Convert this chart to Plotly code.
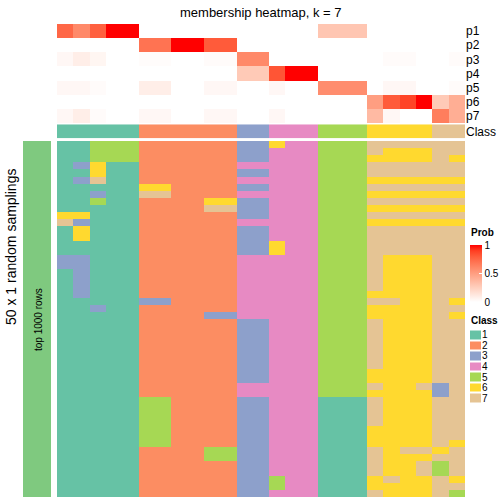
import plotly.graph_objects as go

# ---------------- data ----------------
class_labels = ["1", "2", "3", "4", "5", "6", "7"]
class_colors = ["#66C2A5", "#FC8D62", "#8DA0CB", "#E78AC3", "#A6D854", "#FFD92F", "#E5C494"]

col_class = [1, 1, 1, 1, 1, 2, 2, 2, 2, 2, 2, 3, 3, 4, 4, 4, 5, 5, 5, 6, 6, 6, 6, 7, 7]

prob_rows = ["p1", "p2", "p3", "p4", "p5", "p6", "p7"]
p1 = [0.75, 0.6, 0.78, 1, 1, 0, 0, 0, 0, 0, 0, 0, 0, 0, 0, 0, 0.3, 0.3, 0.3, 0, 0, 0, 0, 0, 0]
p2 = [0, 0, 0, 0, 0, 0.7, 0.7, 1, 1, 0.8, 0.8, 0, 0, 0, 0, 0, 0, 0, 0, 0, 0, 0, 0, 0, 0]
p3 = [0.04, 0.09, 0.05, 0, 0, 0.015, 0.015, 0, 0, 0.02, 0.02, 0.6, 0.6, 0, 0, 0, 0, 0, 0, 0, 0.02, 0.02, 0, 0, 0.02]
p4 = [0, 0, 0, 0, 0, 0, 0, 0, 0, 0, 0, 0.28, 0.28, 0.82, 1, 1, 0, 0, 0, 0, 0, 0, 0, 0, 0]
p5 = [0.04, 0.04, 0.02, 0, 0, 0.09, 0.09, 0, 0, 0.04, 0.04, 0, 0, 0.04, 0, 0, 0.58, 0.58, 0.58, 0, 0.04, 0.04, 0, 0, 0.02]
p6 = [0, 0, 0, 0, 0, 0, 0, 0, 0, 0, 0, 0, 0, 0, 0, 0, 0, 0, 0, 0.5, 0.8, 0.88, 1, 0.28, 0.42]
p7 = [0.04, 0.09, 0.02, 0, 0, 0.04, 0.04, 0, 0, 0.04, 0.04, 0, 0, 0.04, 0, 0, 0, 0, 0, 0.36, 0.04, 0, 0, 0.65, 0.42]

membership = [
    "11555 222222 33 644 555 777777",
    "11555 222222 33 444 555 766677",
    "11555 222222 33 444 555 666676",
    "13611 222222 44 444 555 777777",
    "11611 222222 33 444 555 777777",
    "13711 222222 44 444 555 666666",
    "11111 662222 33 444 555 777777",
    "11311 772222 44 444 555 666666",
    "11511 222266 33 444 555 777777",
    "11111 222277 33 444 555 666666",
    "66111 222222 33 444 555 777777",
    "73111 222222 44 444 555 666666",
    "16111 222222 33 444 555 777777",
    "16111 222222 33 444 555 777777",
    "11111 222222 33 644 555 777777",
    "11111 222222 33 644 555 777777",
    "33111 222222 44 444 555 766677",
    "33111 222222 44 444 555 766677",
    "13111 222222 44 444 555 766677",
    "13111 222222 44 444 555 766677",
    "13111 222222 44 444 555 766677",
    "13111 222222 44 444 555 666677",
    "11111 332222 44 444 555 776676",
    "11311 222222 44 444 555 666677",
    "11111 222233 44 444 555 666676",
    "11111 222222 33 444 555 766677",
    "11111 222222 33 444 555 766677",
    "11111 222222 33 444 555 766677",
    "11111 222222 33 444 555 766677",
    "11111 222222 33 444 555 766677",
    "11111 222222 33 444 555 766677",
    "11111 222222 33 444 555 766677",
    "11111 222222 33 444 555 666677",
    "11111 222222 33 444 555 666677",
    "11111 222222 44 444 555 766737",
    "11111 222222 44 444 555 666637",
    "11111 552222 33 444 111 766677",
    "11111 552222 33 444 111 766677",
    "11111 552222 33 444 111 766677",
    "11111 552222 33 444 111 766677",
    "11111 552222 33 444 111 666677",
    "11111 552222 33 444 111 666677",
    "11111 552222 33 444 111 666676",
    "11111 222255 33 444 111 767767",
    "11111 222255 33 444 111 766677",
    "11111 222222 33 444 111 766757",
    "11111 222222 33 444 111 766757",
    "11111 222222 33 544 111 676676",
    "11111 222222 33 544 111 666677",
    "11111 222222 33 444 111 766675",
]

# ---------------- helpers ----------------
M = [[int(ch) for ch in r.replace(" ", "")] for r in membership]
P = [p1, p2, p3, p4, p5, p6, p7]
ncol = len(col_class)
nrow = len(M)


def lab_to_hex(L, a, b):
    fy = (L + 16) / 116
    fx = fy + a / 500
    fz = fy - b / 200

    def finv(t):
        return t ** 3 if t ** 3 > 0.008856 else (t - 16 / 116) / 7.787

    X_, Y_, Z_ = 0.95047 * finv(fx), 1.0 * finv(fy), 1.08883 * finv(fz)
    r = 3.2406 * X_ - 1.5372 * Y_ - 0.4986 * Z_
    g = -0.9689 * X_ + 1.8758 * Y_ + 0.0415 * Z_
    bb = 0.0557 * X_ - 0.2040 * Y_ + 1.0570 * Z_

    def gam(c):
        c = max(0.0, min(1.0, c))
        return 12.92 * c if c <= 0.0031308 else 1.055 * c ** (1 / 2.4) - 0.055

    return "#%02x%02x%02x" % tuple(int(round(gam(c) * 255)) for c in (r, g, bb))


prob_scale = []
for i in range(11):
    t = i / 10
    prob_scale.append([t, lab_to_hex(100 - 46.76 * t, 80.09 * t, 67.20 * t)])

disc = []
for k, c in enumerate(class_colors):
    disc.append([k / 7, c])
    disc.append([(k + 1) / 7, c])


def X(p):
    return p / 504


def Y(p):
    return 1 - p / 504


FONT = "Liberation Sans, Arial, sans-serif"
cols = list(range(ncol))

fig = go.Figure()

# main membership heatmap
fig.add_trace(go.Heatmap(z=M, x=cols, y=list(range(nrow)), colorscale=disc, zmin=0.5, zmax=7.5,
                         showscale=False, xaxis="x", yaxis="y", hoverinfo="skip"))
# probability annotation
fig.add_trace(go.Heatmap(z=P, x=cols, y=list(range(7)), colorscale=prob_scale, zmin=0, zmax=1,
                         xaxis="x2", yaxis="y2", hoverinfo="skip",
                         colorbar=dict(
                             x=X(470), xanchor="left", y=Y(245), yanchor="top",
                             len=57, lenmode="pixels", thickness=12, thicknessmode="pixels",
                             xpad=0, ypad=0, outlinewidth=0,
                             tickvals=[0, 0.5, 1], ticktext=["0", "0.5", "1"],
                             ticks="inside", ticklen=3, tickcolor="white",
                             tickfont=dict(size=10, family=FONT, color="black"))))
# class annotation row
fig.add_trace(go.Heatmap(z=[col_class], x=cols, y=[0], colorscale=disc, zmin=0.5, zmax=7.5,
                         showscale=False, xaxis="x3", yaxis="y3", hoverinfo="skip"))
# left block bar
fig.add_trace(go.Heatmap(z=[[1]], x=[0], y=[0], colorscale=[[0, "#7FC97F"], [1, "#7FC97F"]],
                         showscale=False, xaxis="x4", yaxis="y4", hoverinfo="skip"))
# class legend
fig.add_trace(go.Heatmap(z=[[k + 1] for k in range(7)], x=[0], y=list(range(7)), colorscale=disc,
                         zmin=0.5, zmax=7.5, ygap=2, showscale=False, xaxis="x5", yaxis="y5", hoverinfo="skip"))

hide = dict(visible=False, showgrid=False, zeroline=False)
main_xd = [X(57), X(465)]
main_yd = [Y(497), Y(141)]
lab_font = dict(size=12, family=FONT, color="black")

fig.update_layout(
    width=504, height=504, margin=dict(l=0, r=0, t=0, b=0, autoexpand=False),
    paper_bgcolor="white", plot_bgcolor="white", showlegend=False,
    font=dict(family=FONT, color="black"),
    xaxis=dict(domain=main_xd, range=[-0.5, ncol - 0.5], **hide),
    yaxis=dict(domain=main_yd, range=[nrow - 0.5, -0.5], **hide),
    xaxis2=dict(domain=main_xd, range=[-0.5, ncol - 0.5], anchor="y2", **hide),
    yaxis2=dict(domain=[Y(123.3), Y(24)], range=[6.5, -0.5], anchor="x2", side="right",
                tickvals=list(range(7)), ticktext=prob_rows, ticks="", showgrid=False,
                zeroline=False, showline=False, tickfont=lab_font, automargin=False),
    xaxis3=dict(domain=main_xd, range=[-0.5, ncol - 0.5], anchor="y3", **hide),
    yaxis3=dict(domain=[Y(138.3), Y(124.3)], range=[0.5, -0.5], anchor="x3", side="right",
                tickvals=[0], ticktext=["Class"], ticks="", showgrid=False,
                zeroline=False, showline=False, tickfont=lab_font, automargin=False),
    xaxis4=dict(domain=[X(23), X(51)], range=[-0.5, 0.5], anchor="y4", **hide),
    yaxis4=dict(domain=main_yd, range=[0.5, -0.5], anchor="x4", **hide),
    xaxis5=dict(domain=[X(470), X(481)], range=[-0.5, 0.5], anchor="y5", **hide),
    yaxis5=dict(domain=[Y(403.5), Y(329.5)], range=[6.5, -0.5], anchor="x5", side="right",
                tickvals=list(range(7)), ticktext=class_labels, ticks="", showgrid=False,
                zeroline=False, showline=False, automargin=False,
                tickfont=dict(size=10, family=FONT, color="black")),
    annotations=[
        dict(text="membership heatmap, k = 7", x=X(261), y=Y(12), xref="paper", yref="paper",
             xanchor="center", yanchor="middle",
             showarrow=False, font=dict(size=13, family=FONT, color="black")),
        dict(text="50 x 1 random samplings", x=X(11), y=Y(247), xref="paper", yref="paper",
             xanchor="center", yanchor="middle",
             showarrow=False, textangle=-90, font=dict(size=14, family=FONT, color="black")),
        dict(text="top 1000 rows", x=X(38), y=Y(320), xref="paper", yref="paper",
             xanchor="center", yanchor="middle",
             showarrow=False, textangle=-90, font=dict(size=10, family=FONT, color="black")),
        dict(text="<b>Prob</b>", x=X(469), y=Y(232.5), xref="paper", yref="paper",
             xanchor="left", yanchor="middle",
             showarrow=False, font=dict(size=10, family=FONT, color="black")),
        dict(text="<b>Class</b>", x=X(469), y=Y(320), xref="paper", yref="paper",
             xanchor="left", yanchor="middle",
             showarrow=False, font=dict(size=10, family=FONT, color="black")),
    ],
)

fig.write_html("out.html", config={"displayModeBar": False},
               post_script="document.body.style.margin='0';document.body.style.padding='0';")
